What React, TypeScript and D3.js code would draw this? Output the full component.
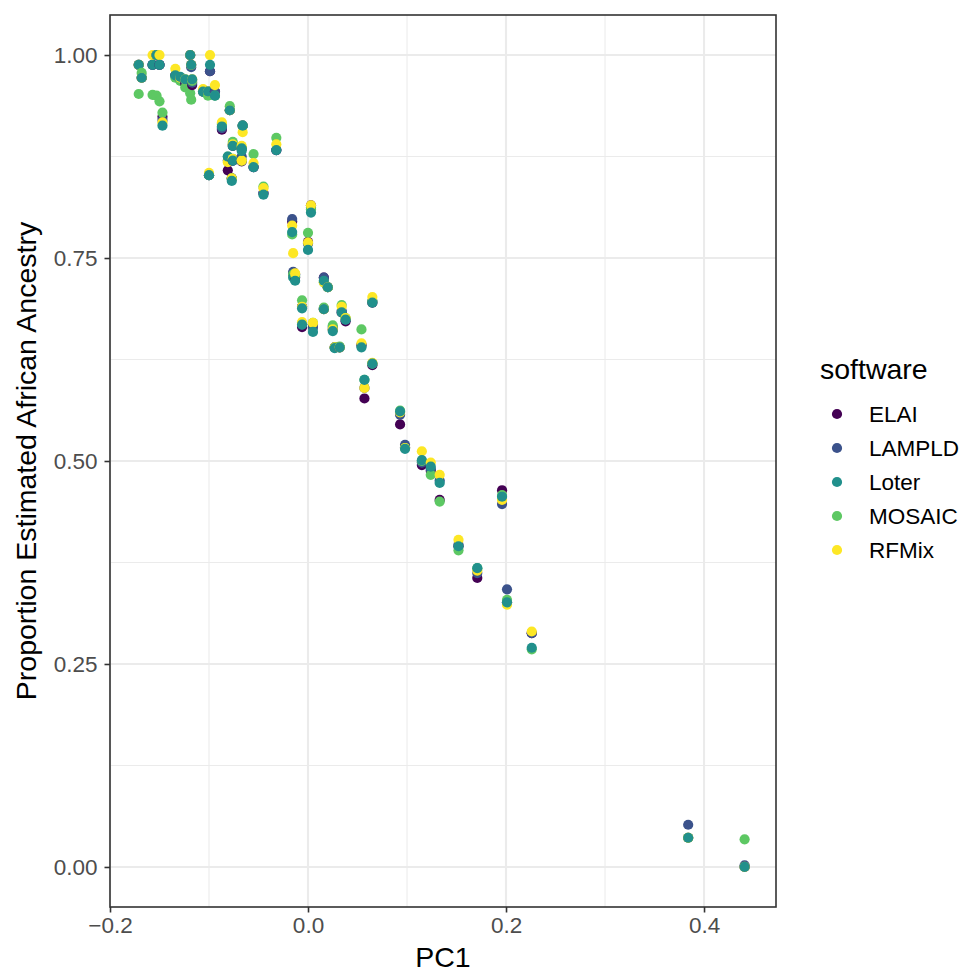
import { useRef, useEffect } from "react";
import * as d3 from "d3";

// one value per individual, same order in every array
const pc1 = [
  -0.171, -0.168, -0.157, -0.153, -0.15, -0.147, -0.134, -0.129, -0.124, -0.119,
  -0.118, -0.117, -0.099, -0.106, -0.101, -0.094, -0.079, -0.087, -0.066, -0.076,
  -0.067, -0.081, -0.076, -0.067, -0.055, -0.1, -0.077, -0.045, -0.032, -0.016,
  0.003, 0.0, -0.015, -0.013, -0.006, 0.016, 0.02, 0.016, -0.006, 0.005,
  0.025, 0.034, 0.038, 0.027, 0.032, 0.054, 0.065, 0.065, 0.057, 0.093,
  0.098, 0.115, 0.124, 0.133, 0.196, 0.152, 0.171, 0.201, 0.226, 0.384, 0.441,
];
const elai = [
  0.988, 0.972, 0.988, 1.0, 0.988, 0.924, 0.975, 0.97, 0.965, 1.0,
  0.988, 0.963, 0.98, 0.955, 0.952, 0.955, 0.932, 0.908, 0.913, 0.888,
  0.885, 0.858, 0.87, 0.869, 0.862, 0.852, 0.848, 0.83, 0.883, 0.795,
  0.815, 0.77, 0.73, 0.726, 0.69, 0.726, 0.714, 0.687, 0.665, 0.668,
  0.662, 0.683, 0.672, 0.64, 0.64, 0.643, 0.695, 0.618, 0.577, 0.545,
  0.517, 0.495, 0.488, 0.452, 0.464, 0.395, 0.356, 0.326, 0.288, 0.036, 0.0,
];
const lampld = [
  0.988, 0.972, 0.988, 1.0, 0.988, 0.92, 0.975, 0.97, 0.968, 1.0,
  0.985, 0.966, 0.98, 0.955, 0.955, 0.955, 0.932, 0.91, 0.913, 0.89,
  0.885, 0.87, 0.87, 0.875, 0.862, 0.852, 0.848, 0.83, 0.883, 0.798,
  0.812, 0.768, 0.733, 0.73, 0.69, 0.726, 0.714, 0.688, 0.668, 0.664,
  0.665, 0.685, 0.674, 0.64, 0.64, 0.643, 0.697, 0.62, 0.59, 0.557,
  0.52, 0.498, 0.49, 0.476, 0.447, 0.397, 0.362, 0.342, 0.288, 0.052, 0.002,
];
const loter = [
  0.988, 0.972, 0.988, 1.0, 0.988, 0.913, 0.975, 0.973, 0.97, 1.0,
  0.988, 0.97, 0.988, 0.955, 0.955, 0.95, 0.932, 0.912, 0.913, 0.888,
  0.885, 0.875, 0.87, 0.882, 0.862, 0.852, 0.845, 0.828, 0.883, 0.782,
  0.806, 0.76, 0.726, 0.722, 0.688, 0.722, 0.714, 0.687, 0.668, 0.659,
  0.66, 0.683, 0.674, 0.639, 0.64, 0.64, 0.695, 0.62, 0.6, 0.561,
  0.515, 0.501, 0.493, 0.473, 0.456, 0.395, 0.368, 0.326, 0.27, 0.036, 0.0,
];
const mosaic = [
  0.952, 0.978, 0.951, 0.95, 0.943, 0.929, 0.972, 0.968, 0.96, 0.953,
  0.945, 0.968, 0.955, 0.955, 0.95, 0.95, 0.937, 0.915, 0.913, 0.893,
  0.885, 0.875, 0.872, 0.87, 0.878, 0.852, 0.848, 0.838, 0.898, 0.779,
  0.81, 0.781, 0.73, 0.728, 0.698, 0.72, 0.714, 0.689, 0.669, 0.67,
  0.667, 0.692, 0.676, 0.64, 0.641, 0.662, 0.697, 0.62, 0.6, 0.562,
  0.516, 0.5, 0.483, 0.45, 0.458, 0.39, 0.368, 0.329, 0.268, 0.036, 0.034,
];
const rfmix = [
  0.988, 0.972, 1.0, 1.0, 1.0, 0.917, 0.983, 0.972, 0.97, 1.0,
  0.988, 0.97, 1.0, 0.958, 0.955, 0.963, 0.932, 0.917, 0.905, 0.89,
  0.888, 0.868, 0.872, 0.87, 0.867, 0.855, 0.848, 0.836, 0.89, 0.79,
  0.815, 0.769, 0.756, 0.731, 0.69, 0.72, 0.714, 0.687, 0.671, 0.67,
  0.662, 0.69, 0.676, 0.64, 0.64, 0.645, 0.702, 0.621, 0.59, 0.56,
  0.516, 0.512, 0.498, 0.483, 0.452, 0.403, 0.365, 0.323, 0.29, 0.036, 0.0,
];

const softwares = ["ELAI", "LAMPLD", "Loter", "MOSAIC", "RFMix"];
const colors = ["#440154", "#3B528B", "#21908C", "#5DC863", "#FDE725"];
const xTicks = [-0.2, 0.0, 0.2, 0.4];
const yTicks = [0, 0.25, 0.5, 0.75, 1.0];

export default function App() {
  const ref = useRef<SVGSVGElement>(null);
  useEffect(() => {
    const svg = d3.select(ref.current);
    svg.selectAll("*").remove();
    const font = "'Liberation Sans', Arial, sans-serif";
    const small = "22.5px";
    const big = "28.5px";

    const left = 110, right = 776, top = 15, bottom = 907;
    const x = d3.scaleLinear().domain([-0.2, 0.4727]).range([left, right]);
    const y = d3.scaleLinear().domain([-0.0493, 1.0493]).range([bottom, top]);

    svg.append("rect")
      .attr("x", left).attr("y", top)
      .attr("width", right - left).attr("height", bottom - top)
      .attr("fill", "white");

    // minor grid
    const xMinor = [-0.1, 0.1, 0.3];
    const yMinor = [0.125, 0.375, 0.625, 0.875];
    svg.selectAll(".xminor").data(xMinor).join("line")
      .attr("x1", (d) => x(d)).attr("x2", (d) => x(d))
      .attr("y1", top).attr("y2", bottom)
      .attr("stroke", "#EBEBEB").attr("stroke-width", 1.07);
    svg.selectAll(".yminor").data(yMinor).join("line")
      .attr("y1", (d) => y(d)).attr("y2", (d) => y(d))
      .attr("x1", left).attr("x2", right)
      .attr("stroke", "#EBEBEB").attr("stroke-width", 1.07);
    // major grid
    svg.selectAll(".xmajor").data(xTicks).join("line")
      .attr("x1", (d) => x(d)).attr("x2", (d) => x(d))
      .attr("y1", top).attr("y2", bottom)
      .attr("stroke", "#EBEBEB").attr("stroke-width", 2.13);
    svg.selectAll(".ymajor").data(yTicks).join("line")
      .attr("y1", (d) => y(d)).attr("y2", (d) => y(d))
      .attr("x1", left).attr("x2", right)
      .attr("stroke", "#EBEBEB").attr("stroke-width", 2.13);

    // points, one layer per individual (Loter drawn last)
    const series = [elai, lampld, mosaic, rfmix, loter];
    const order = [0, 1, 3, 4, 2];
    const pts: { px: number; py: number; c: string }[] = [];
    pc1.forEach((p, i) => {
      series.forEach((s, k) => {
        pts.push({ px: x(p), py: y(s[i]), c: colors[order[k]] });
      });
    });
    svg.append("g").selectAll("circle").data(pts).join("circle")
      .attr("cx", (d) => d.px).attr("cy", (d) => d.py)
      .attr("r", 5.1).attr("fill", (d) => d.c);

    // panel border
    svg.append("rect")
      .attr("x", left).attr("y", top)
      .attr("width", right - left).attr("height", bottom - top)
      .attr("fill", "none").attr("stroke", "#333333").attr("stroke-width", 1.6);

    // axes
    const xAxis = svg.append("g").attr("transform", `translate(0,${bottom})`)
      .call(d3.axisBottom(x).tickValues(xTicks).tickSize(5.5).tickPadding(5)
        .tickFormat((d) => d3.format(".1f")(d as number).replace("-", "\u2212")));
    const yAxis = svg.append("g").attr("transform", `translate(${left},0)`)
      .call(d3.axisLeft(y).tickValues(yTicks).tickSize(5.5).tickPadding(7)
        .tickFormat((d) => d3.format(".2f")(d as number)));
    [xAxis, yAxis].forEach((g) => {
      g.select(".domain").remove();
      g.selectAll("line").attr("stroke", "#333333").attr("stroke-width", 1.6);
      g.selectAll("text").attr("fill", "#4D4D4D")
        .style("font-family", font).style("font-size", small);
    });

    svg.append("text")
      .attr("x", (left + right) / 2).attr("y", 967)
      .attr("text-anchor", "middle")
      .style("font-family", font).style("font-size", big)
      .text("PC1");
    svg.append("text")
      .attr("transform", `translate(36,${(top + bottom) / 2}) rotate(-90)`)
      .attr("text-anchor", "middle")
      .style("font-family", font).style("font-size", big)
      .text("Proportion Estimated African Ancestry");

    // legend
    const lg = svg.append("g");
    lg.append("text")
      .attr("x", 820).attr("y", 379)
      .style("font-family", font).style("font-size", big)
      .text("software");
    const items = lg.selectAll(".item").data(softwares).join("g")
      .attr("transform", (_, i) => `translate(837,${414 + i * 34})`);
    items.append("circle").attr("r", 5.1)
      .attr("fill", (_, i) => colors[i]);
    items.append("text")
      .attr("x", 32).attr("dy", "0.36em")
      .style("font-family", font).style("font-size", small)
      .text((d) => d);
  }, []);
  return (
    <svg
      ref={ref}
      width={966}
      height={974}
      style={{ position: "absolute", left: 0, top: 0, background: "white" }}
    />
  );
}
